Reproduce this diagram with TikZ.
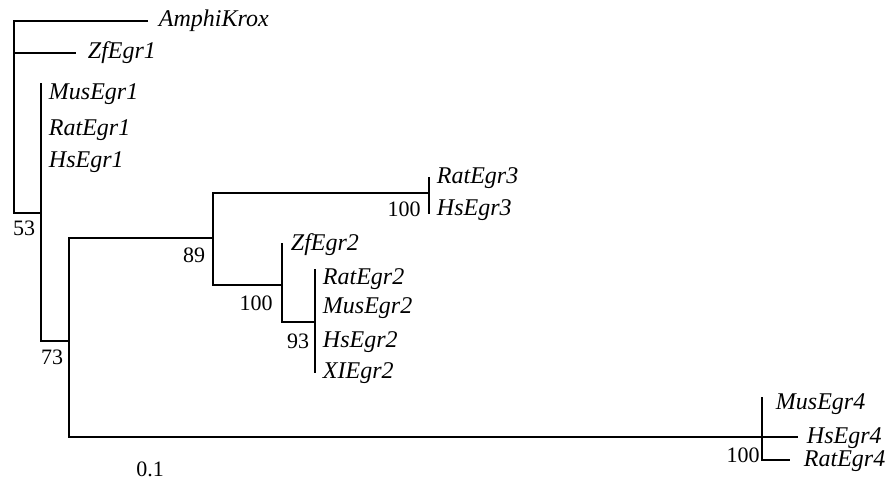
\documentclass[tikz,border=0pt]{standalone}
\usepackage{fontspec}
\setmainfont{Liberation Serif}
\begin{document}
\begin{tikzpicture}[x=1pt, y=-1pt, line width=1.9pt,
    every node/.style={font=\fontsize{22}{26}\selectfont},
    leaf/.style={anchor=west, inner sep=0pt, font=\fontsize{24}{28}\selectfont\itshape},
    boot/.style={inner sep=0pt}]
    \useasboundingbox (0,0) rectangle (888,482);
    % leaves
    \node[leaf](amphi)at (158,21){AmphiKrox};
    \node[leaf](zf1)at (87,53){ZfEgr1};
    \node[leaf](mus1)at (48,94){MusEgr1};
    \node[leaf](rat1)at (48,130){RatEgr1};
    \node[leaf](hs1)at (48,162){HsEgr1};
    \node[leaf](rat3)at (436,178){RatEgr3};
    \node[leaf](hs3)at (436,210){HsEgr3};
    \node[leaf](zf2)at (290,245){ZfEgr2};
    \node[leaf](rat2)at (322,279){RatEgr2};
    \node[leaf](mus2)at (322,308){MusEgr2};
    \node[leaf](hs2)at (322,342){HsEgr2};
    \node[leaf](xl2)at (322,373){XIEgr2};
    \node[leaf](mus4)at (775,404){MusEgr4};
    \node[leaf](hs4)at (806,438){HsEgr4};
    \node[leaf](rat4)at (803,461){RatEgr4};
    % internal nodes and branch tips
    \coordinate (root) at (14,213);
    \coordinate (amphitip) at (148,21);
    \coordinate (zf1tip) at (76,53);
    \coordinate (n53) at (41,213);
    \coordinate (n53top) at (41,83);
    \coordinate (n73) at (69,341);
    \coordinate (n89) at (213,238);
    \coordinate (n3) at (429,193);
    \coordinate (n3top) at (429,177);
    \coordinate (n3bot) at (429,214);
    \coordinate (n2) at (282,285);
    \coordinate (n2top) at (282,243);
    \coordinate (n93) at (315,322);
    \coordinate (n93top) at (315,269);
    \coordinate (n93bot) at (315,373);
    \coordinate (n4) at (762,437);
    \coordinate (n4top) at (762,397);
    \coordinate (hs4tip) at (798,437);
    \coordinate (rat4tip) at (790,460);
    % branches
    \draw(amphitip)-|(root)--(n53);
    \draw(root|-zf1tip)--(zf1tip);
    \draw(n53top)|-(n73);
    \draw(n89)-|(n73);
    \draw(n73)|-(n4);
    \draw(n3)-|(n89);
    \draw(n89)|-(n2);
    \draw(n3top)--(n3bot);
    \draw(n2top)--(n2);
    \draw(n2)|-(n93);
    \draw(n93top)--(n93bot);
    \draw(n4top)--(n4)--(hs4tip);
    \draw(n4)|-(rat4tip);
    % bootstrap values
    \node[boot](b53)at (24,228){53};
    \node[boot](b73)at (52,357){73};
    \node[boot](b89)at (194,255){89};
    \node[boot](b2)at (256,303){100};
    \node[boot](b93)at (298,341){93};
    \node[boot](b3)at (404,209){100};
    \node[boot](b4)at (743,455){100};
    \node[boot](scale)at (150,469){0.1};
\end{tikzpicture}
\end{document}
